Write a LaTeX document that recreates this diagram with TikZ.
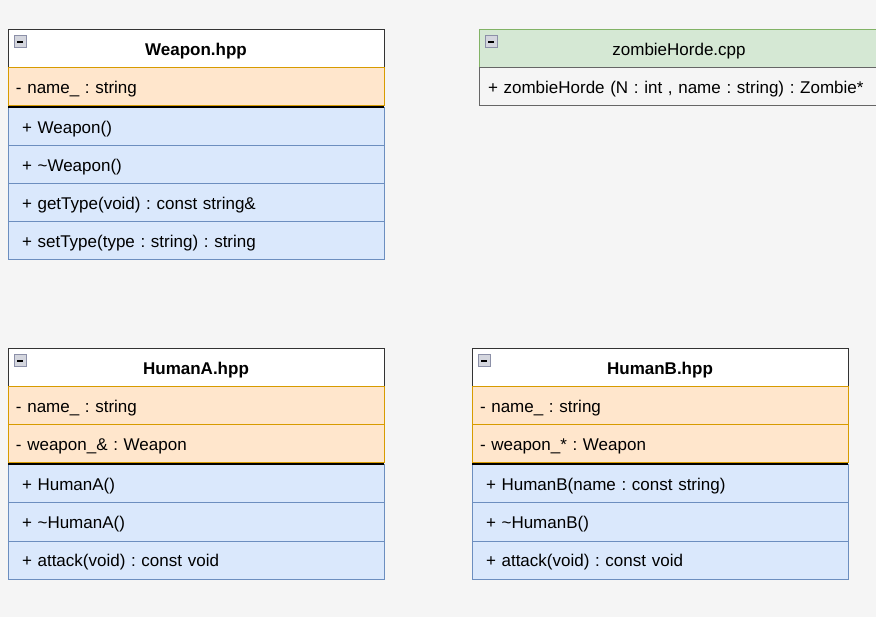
\documentclass[tikz,border=0pt]{standalone}
\usepackage{fontspec}
\setmainfont{Liberation Sans}
\usetikzlibrary{positioning}
\frenchspacing
\definecolor{bg}{HTML}{F5F5F5}
\definecolor{attrfill}{HTML}{FFE6CC}
\definecolor{attrline}{HTML}{D79B00}
\definecolor{opfill}{HTML}{DAE8FC}
\definecolor{opline}{HTML}{6C8EBF}
\definecolor{cppfill}{HTML}{D5E8D4}
\definecolor{cppline}{HTML}{82B366}
\definecolor{iconfill}{HTML}{D4D6DE}
\definecolor{iconline}{HTML}{8C90A8}
\tikzset{
  cell/.style={draw, line width=1pt, outer sep=0pt, inner ysep=0pt, minimum height=38pt, text height=16pt, text depth=3.5pt, align=left, font=\fontsize{17}{20}\selectfont\frenchspacing},
  head/.style={cell, fill=white, draw=black!80, anchor=north west, minimum width=377pt, align=center, font=\fontsize{17}{20}\selectfont\bfseries},
  attr/.style={cell, fill=attrfill, draw=attrline, inner xsep=8pt, text width=361pt},
  op/.style={cell, fill=opfill, draw=opline, inner xsep=14pt, text width=349pt},
  sepline/.style={line width=1.3pt, black},
  icon/.style={draw=iconline, fill=iconfill, line width=1pt, anchor=north west, minimum size=12pt, inner sep=0pt, outer sep=0pt,
    text height=, text depth=,
    path picture={\draw[line width=1.6pt, black] ([xshift=3pt]path picture bounding box.west) -- ([xshift=-3pt]path picture bounding box.east);}}
}
\begin{document}
\begin{tikzpicture}[x=1pt, y=-1pt]
  \useasboundingbox[fill=bg] (0,0) rectangle (876,617);

  % Weapon.hpp
  \node (wHead) at (8,30) [head, minimum width=376pt] {Weapon.hpp};
  \node (wName) [attr, text width=360pt, below=0pt of wHead] {- name\_ : string};
  \node (wOp1) [op, text width=348pt, below=2pt of wName] {+ Weapon()};
  \node (wOp2) [op, text width=348pt, below=0pt of wOp1] {+ \textasciitilde Weapon()};
  \node (wOp3) [op, text width=348pt, below=0pt of wOp2] {+ getType(void) : const string\&};
  \node (wOp4) [op, text width=348pt, below=0pt of wOp3] {+ setType(type : string) : string};
  \draw[sepline] ([yshift=-1pt]wName.south west) -- ([yshift=-1pt]wName.south east);
  \node (wIcon) at ([shift={(6pt,-6pt)}]wHead.north west) [icon] {};

  % zombieHorde.cpp
  \node (zHead) at (479,30) [head, fill=cppfill, draw=cppline, minimum width=400pt, font=\fontsize{17}{20}\selectfont] {zombieHorde.cpp};
  \node (zOp) [cell, fill=bg, draw=black!60, inner xsep=9pt, text width=382pt, below=0pt of zHead] {+ zombieHorde (N : int , name : string) : Zombie*};
  \node (zIcon) at ([shift={(6pt,-6pt)}]zHead.north west) [icon] {};

  % HumanA.hpp
  \node (aHead) at (8,349) [head, minimum width=376pt] {HumanA.hpp};
  \node (aName) [attr, text width=360pt, below=0pt of aHead] {- name\_ : string};
  \node (aWeapon) [attr, text width=360pt, below=0pt of aName] {- weapon\_\& : Weapon};
  \node (aOp1) [op, text width=348pt, below=2pt of aWeapon] {+ HumanA()};
  \node (aOp2) [op, text width=348pt, below=0pt of aOp1] {+ \textasciitilde HumanA()};
  \node (aOp3) [op, text width=348pt, below=0pt of aOp2] {+ attack(void) : const void};
  \draw[sepline] ([yshift=-1pt]aWeapon.south west) -- ([yshift=-1pt]aWeapon.south east);
  \node (aIcon) at ([shift={(6pt,-6pt)}]aHead.north west) [icon] {};

  % HumanB.hpp
  \node (bHead) at (472,349) [head, minimum width=376pt] {HumanB.hpp};
  \node (bName) [attr, text width=360pt, below=0pt of bHead] {- name\_ : string};
  \node (bWeapon) [attr, text width=360pt, below=0pt of bName] {- weapon\_* : Weapon};
  \node (bOp1) [op, text width=348pt, below=2pt of bWeapon] {+ HumanB(name : const string)};
  \node (bOp2) [op, text width=348pt, below=0pt of bOp1] {+ \textasciitilde HumanB()};
  \node (bOp3) [op, text width=348pt, below=0pt of bOp2] {+ attack(void) : const void};
  \draw[sepline] ([yshift=-1pt]bWeapon.south west) -- ([yshift=-1pt]bWeapon.south east);
  \node (bIcon) at ([shift={(6pt,-6pt)}]bHead.north west) [icon] {};
\end{tikzpicture}
\end{document}
